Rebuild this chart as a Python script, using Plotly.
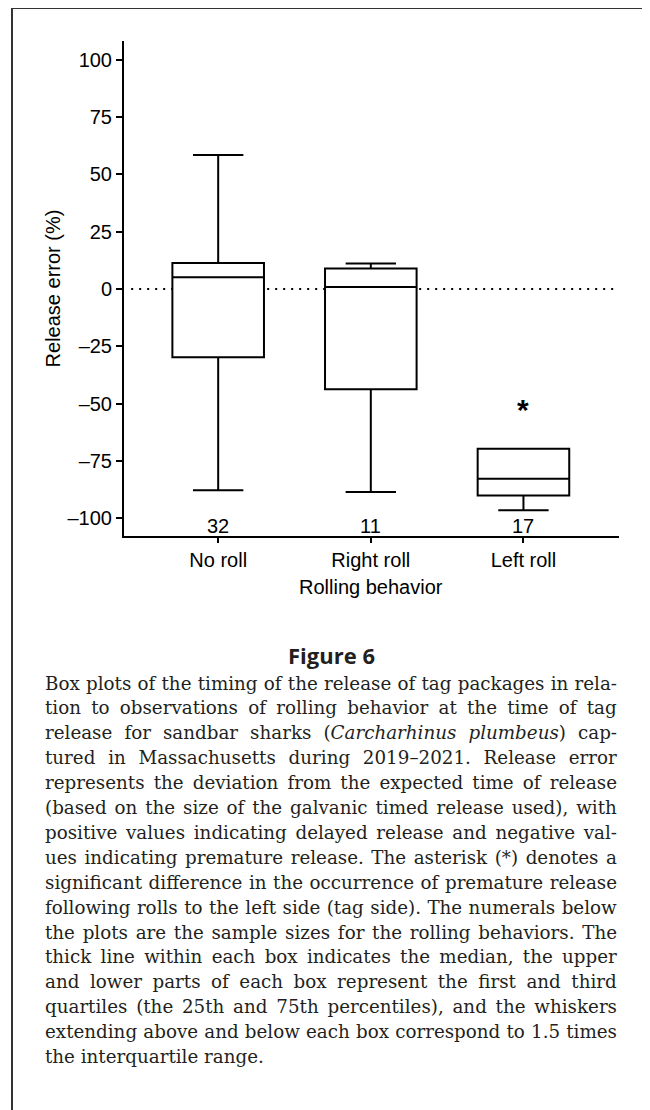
import json
import plotly.graph_objects as go

# ---------------- data ----------------
categories = ["No roll", "Right roll", "Left roll"]
q1_vals = [-29.7, -43.7, -90.0]
median_vals = [5.2, 0.9, -82.7]
q3_vals = [11.4, 9.0, -69.6]
lower_whisker = [-87.8, -88.5, -96.5]
upper_whisker = [58.5, 11.2, -69.6]
sample_sizes = [32, 11, 17]
y_ticks = [-100, -75, -50, -25, 0, 25, 50, 75, 100]
y_ticktext = ["\u2013100", "\u201375", "\u201350", "\u201325", "0", "25", "50", "75", "100"]
significant = ["Left roll"]

caption_title = "Figure 6"
caption_lines = [
    "Box plots of the timing of the release of tag packages in rela-",
    "tion to observations of rolling behavior at the time of tag",
    "release for sandbar sharks (<i>Carcharhinus plumbeus</i>) cap-",
    "tured in Massachusetts during 2019\u20132021. Release error",
    "represents the deviation from the expected time of release",
    "(based on the size of the galvanic timed release used), with",
    "positive values indicating delayed release and negative val-",
    "ues indicating premature release. The asterisk (*) denotes a",
    "significant difference in the occurrence of premature release",
    "following rolls to the left side (tag side). The numerals below",
    "the plots are the sample sizes for the rolling behaviors. The",
    "thick line within each box indicates the median, the upper",
    "and lower parts of each box represent the first and third",
    "quartiles (the 25th and 75th percentiles), and the whiskers",
    "extending above and below each box correspond to 1.5 times",
    "the interquartile range.",
]

# ---------------- layout geometry ----------------
OFF = 8  # page body margin
W, H = 650, 1110
PW, PH = 495, 495
ML = 124 - OFF
MT = 41 - OFF
MR = W - ML - PW
MB = H - MT - PH


def px_x(px):
    return (px - OFF - ML) / PW


def px_y(py):
    return (MT + PH - (py - OFF)) / PH


SANS = "Liberation Sans, Arial, sans-serif"
SERIF = "DejaVu Serif, serif"

fig = go.Figure()
fig.add_trace(go.Box(
    x=categories,
    q1=q1_vals,
    median=median_vals,
    q3=q3_vals,
    lowerfence=lower_whisker,
    upperfence=upper_whisker,
    width=0.6,
    whiskerwidth=0.55,
    fillcolor="white",
    line=dict(color="black", width=2),
    boxpoints=False,
    showlegend=False,
    hoverinfo="skip",
))

annotations = []
# sample sizes
for c, n in zip(categories, sample_sizes):
    annotations.append(dict(x=c, y=-103.4, xref="x", yref="y", text=str(n),
                            showarrow=False, font=dict(family=SANS, size=20, color="black"),
                            xanchor="center", yanchor="middle"))
# asterisk
for c in significant:
    annotations.append(dict(x=c, y=-52.4, xref="x", yref="y", text="<b>*</b>",
                            showarrow=False, font=dict(family=SANS, size=30, color="black"),
                            xanchor="center", yanchor="middle"))
# axis titles
annotations.append(dict(x=px_x(53), y=px_y(288.4), xref="paper", yref="paper",
                        text="Release error (%)", textangle=-90, showarrow=False,
                        font=dict(family=SANS, size=20, color="black"),
                        xanchor="center", yanchor="middle"))
annotations.append(dict(x=px_x(371), y=px_y(587), xref="paper", yref="paper",
                        text="Rolling behavior", showarrow=False,
                        font=dict(family=SANS, size=20, color="black"),
                        xanchor="center", yanchor="middle"))
# caption
annotations.append(dict(x=px_x(331), y=px_y(655), xref="paper", yref="paper",
                        text="<b>" + caption_title + "</b>", showarrow=False,
                        font=dict(family="Open Sans, sans-serif", size=22, color="#231f20"),
                        xanchor="center", yanchor="middle"))
justify_idx = []
for i, line in enumerate(caption_lines):
    if i < len(caption_lines) - 1:
        justify_idx.append(len(annotations))
    annotations.append(dict(x=px_x(43), y=px_y(683 + i * 24.9), xref="paper", yref="paper",
                            text=line, showarrow=False, align="left",
                            font=dict(family=SERIF, size=18.3, color="#231f20"),
                            xanchor="left", yanchor="middle"))

shapes = [
    # dotted zero line
    dict(type="line", xref="x", yref="y", x0=-0.57, x1=2.6, y0=0, y1=0,
         line=dict(color="black", width=2, dash="2px,6px"), layer="below"),
    # page frame (open at the bottom)
    dict(type="path", xref="paper", yref="paper",
         path=f"M {px_x(12)} {px_y(1125)} L {px_x(12)} {px_y(8)} L {px_x(644)} {px_y(8)} L {px_x(644)} {px_y(1125)}",
         line=dict(color="#333333", width=2)),
]

fig.update_layout(
    width=W, height=H,
    margin=dict(l=ML, r=MR, t=MT, b=MB),
    paper_bgcolor="white", plot_bgcolor="white",
    annotations=annotations,
    shapes=shapes,
    showlegend=False,
)
fig.update_xaxes(
    type="category", categoryorder="array", categoryarray=categories,
    range=[-0.617, 2.626],
    showline=True, linecolor="black", linewidth=2,
    ticks="outside", ticklen=5, tickwidth=2, tickcolor="black",
    showgrid=False, zeroline=False,
    tickfont=dict(family=SANS, size=20, color="black"),
)
fig.update_yaxes(
    range=[-107.7, 108.2],
    tickvals=y_ticks, ticktext=y_ticktext,
    showline=True, linecolor="black", linewidth=2,
    ticks="outside", ticklen=6, tickwidth=2, tickcolor="black",
    showgrid=False, zeroline=False,
    tickfont=dict(family=SANS, size=20, color="black"),
)

# justify the caption lines (word spacing) to a common right edge
TARGET_RIGHT = 617
post_js = """
var gd = document.getElementById('{plot_id}');
function justifyCaption() {
  var idx = %s;
  idx.forEach(function(i) {
    var t = gd.querySelector('g.annotation[data-index="' + i + '"] text.annotation-text');
    if (!t) return;
    t.style.wordSpacing = '0px';
    var r = t.getBoundingClientRect();
    var n = (t.textContent.match(/ /g) || []).length;
    if (n > 0) { t.style.wordSpacing = ((%d - r.right) / n) + 'px'; }
  });
}
if (document.fonts && document.fonts.ready) { document.fonts.ready.then(justifyCaption); } else { justifyCaption(); }
""" % (json.dumps(justify_idx), TARGET_RIGHT)

fig.write_html("out.html", post_script=post_js)
